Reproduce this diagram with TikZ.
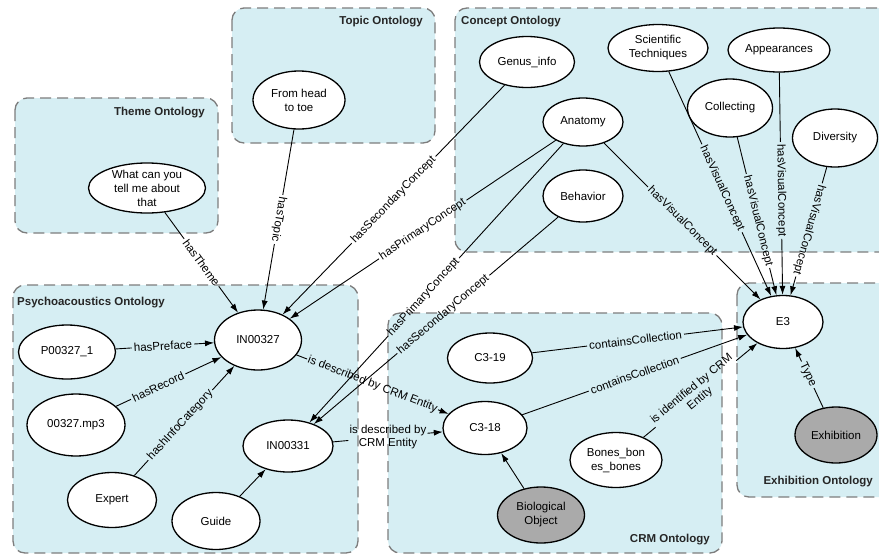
\documentclass[tikz,border=0pt]{standalone}
\usepackage{fontspec}
\setmainfont{Liberation Sans}
\usetikzlibrary{shapes.geometric,arrows.meta}
\definecolor{boxc}{RGB}{214,238,243}
\definecolor{bord}{RGB}{125,125,125}
\definecolor{gnode}{RGB}{170,170,170}
\begin{document}
\begin{tikzpicture}[x=1pt,y=-1pt,
  box/.style={draw=bord, fill=boxc, line width=1.3pt, dash pattern=on 11pt off 6pt, rounded corners=12pt},
  ttl/.style={font=\bfseries\fontsize{11.5}{13}\selectfont, text=black!85, inner sep=0pt},
  ell/.style 2 args={ellipse, draw=black, line width=1.3pt, fill=white, minimum width=#1, minimum height=#2, inner sep=0pt},
  gell/.style 2 args={ell={#1}{#2}, fill=gnode},
  txt/.style={font=\fontsize{11.5}{14}\selectfont, align=center, inner sep=0pt},
  lab/.style={font=\fontsize{11.5}{13}\selectfont, sloped, inner sep=2pt},
  ln/.style={line width=0.9pt},
  arr/.style={ln, -{Latex[length=9pt,width=6pt]}},
]
\newcommand\labedge[5]{\path (#1) -- node[lab,#4] (#3) {#5} (#2); \draw[ln] (#1) -- (#3); \draw[arr] (#3) -- (#2);}
\useasboundingbox (0,0) rectangle (879,555);
\clip (0,0) rectangle (879,555);
% ontology boxes
\draw[box] (15,98) rectangle (218,233);
\draw[box] (232,8) rectangle (435,143);
\draw[box] (455,8) rectangle (895,252);
\draw[box] (13,285) rectangle (358,553);
\draw[box] (388,313) rectangle (722,553);
\draw[box] (737,283) rectangle (895,497);
\node[ttl, anchor=east] (t-theme) at (205,113) {Theme Ontology};
\node[ttl, anchor=east] (t-topic) at (423,22) {Topic Ontology};
\node[ttl, anchor=west] (t-concept) at (461,22) {Concept Ontology};
\node[ttl, anchor=west] (t-psy) at (17,303) {Psychoacoustics Ontology};
\node[ttl, anchor=east] (t-crm) at (710,540) {CRM Ontology};
\node[ttl, anchor=east] (t-exh) at (873,482) {Exhibition Ontology};
% nodes
\node[ell={117}{50}, label={[txt]center:What can you\\tell me about\\that}] (what) at (147,188) {};
\node[ell={92}{58}, label={[txt]center:From head\\to toe}] (head) at (299,100) {};
\node[ell={95}{51}, label={[txt]center:Genus\_info}] (genus) at (527,62) {};
\node[ell={80}{48}, label={[txt]center:Anatomy}] (anat) at (583,122) {};
\node[ell={80}{52}, label={[txt]center:Behavior}] (behav) at (583,196) {};
\node[ell={100}{47}, label={[txt]center:Scientific\\Techniques}] (sci) at (658,48) {};
\node[ell={102}{44}, label={[txt]center:Appearances}] (appe) at (779,50) {};
\node[ell={85}{58}, label={[txt]center:Collecting}] (coll) at (730,108) {};
\node[ell={85}{58}, label={[txt]center:Diversity}] (div) at (835,138) {};
\node[ell={97}{54}, label={[txt]center:P00327\_1}] (p327) at (67,352) {};
\node[ell={98}{62}, label={[txt]center:00327.mp3}] (mp3) at (76,425) {};
\node[ell={89}{55}, label={[txt]center:Expert}] (expert) at (112,500) {};
\node[ell={88}{57}, label={[txt]center:Guide}] (guide) at (216,521) {};
\node[ell={87}{60}, label={[txt]center:IN00327}] (in327) at (258,340) {};
\node[ell={90}{52}, label={[txt]center:IN00331}] (in331) at (288,446) {};
\node[ell={85}{50}, label={[txt]center:C3-19}] (c319) at (490,358) {};
\node[ell={84}{53}, label={[txt]center:C3-18}] (c318) at (485,428) {};
\node[ell={92}{55}, label={[txt]center:Bones\_bon\\es\_bones}] (bones) at (616,460) {};
\node[gell={87}{56}, label={[txt]center:Biological\\Object}] (bio) at (541,515) {};
\node[ell={80}{53}, label={[txt]center:E3}] (e3) at (783,322) {};
\node[gell={82}{56}, label={[txt]center:Exhibition}] (exh) at (836,435) {};
% connectors
\labedge{what}{in327}{l1}{pos=.5}{hasTheme}
\labedge{head}{in327}{l2}{pos=.5, allow upside down}{hasTopic}
\labedge{genus}{in327}{l3}{pos=.5}{hasSecondaryConcept}
\labedge{anat}{in327}{l4}{pos=.5}{hasPrimaryConcept}
\labedge{anat}{in331}{l5}{pos=.55}{hasPrimaryConcept}
\labedge{behav}{in331}{l6}{pos=.47}{hasSecondaryConcept}
\labedge{anat}{e3}{l7}{pos=.5}{hasVisualConcept}
\labedge{sci}{e3}{l8}{pos=.52}{hasVisualConcept}
\labedge{coll}{e3}{l9}{pos=.53}{hasVisualConcept}
\labedge{appe}{e3}{l10}{pos=.53}{hasVisualConcept}
\labedge{div}{e3}{l11}{pos=.49, allow upside down}{hasVisualConcept}
\labedge{p327}{in327}{l12}{pos=.48}{hasPreface}
\labedge{mp3}{in327}{l13}{pos=.4}{hasRecord}
\labedge{expert}{in327}{l14}{pos=.46}{hashInfoCategory}
\draw[arr] (guide) -- (in331);
\labedge{in327}{c318}{l16}{pos=.5, inner sep=1pt}{is described by CRM Entity}
\labedge{in331}{c318}{l17}{pos=.5, sloped=false, align=center, inner sep=1pt}{is described by\\CRM Entity}
\labedge{c319}{e3}{l18}{pos=.49}{containsCollection}
\labedge{c318}{e3}{l19}{pos=.5}{containsCollection}
\labedge{bones}{e3}{l20}{pos=.46, align=center, inner sep=1pt}{is identified by CRM\\Entity}
\labedge{exh}{e3}{l21}{pos=.55}{Type}
\draw[arr] (bio) -- (c318);
\end{tikzpicture}
\end{document}
